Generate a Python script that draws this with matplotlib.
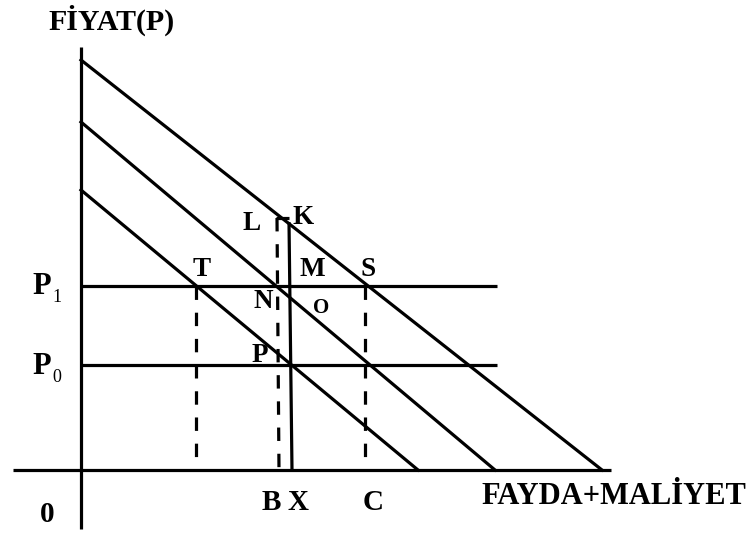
import matplotlib
matplotlib.use("Agg")
import matplotlib.pyplot as plt

# Diagram geometry (in a drawing coordinate space, y grows downward)
axis_v_x = [81, 81]
axis_v_y = [47, 529]
axis_h_x = [13, 611]
axis_h_y = [470, 470]

# Three parallel downward sloping lines: (start, end)
slope_x = [[81, 602], [81, 495], [81, 418]]
slope_y = [[60, 470], [122, 470], [190, 470]]

# Price levels P1, P0
price_y = [286, 365]
price_x_end = 497

# Solid vertical line through K -> X
kx_x = [289, 292]
kx_y = [222, 470]

# Dashed verticals: T, B (with small cap), S->C
dash_x = [[196, 196], [277, 279], [365, 365]]
dash_y = [[286, 470], [218, 470], [286, 470]]
cap_x = [276, 289]
cap_y = [218, 218]

# Point labels
pt_labels = ["T", "M", "S", "L", "K", "N", "P"]
pt_x = [202, 312, 368, 252, 303, 263, 260]
pt_y = [269, 269, 269, 224, 218, 302, 355]

serif = ["Liberation Serif", "DejaVu Serif"]

fig = plt.figure(figsize=(7.5, 5.34), dpi=100)
ax = fig.add_axes([0, 0, 1, 1])
ax.set_xlim(0, 750)
ax.set_ylim(534, 0)
ax.axis("off")

lw = 2.3
ax.plot(axis_v_x, axis_v_y, color="black", lw=lw, solid_capstyle="butt")
ax.plot(axis_h_x, axis_h_y, color="black", lw=lw, solid_capstyle="butt")
for xs, ys in zip(slope_x, slope_y):
    ax.plot(xs, ys, color="black", lw=lw)
for py in price_y:
    ax.plot([axis_v_x[0], price_x_end], [py, py], color="black", lw=lw, solid_capstyle="butt")
ax.plot(kx_x, kx_y, color="black", lw=lw, solid_capstyle="butt")
ax.plot(cap_x, cap_y, color="black", lw=lw, solid_capstyle="butt")
for xs, ys in zip(dash_x, dash_y):
    ax.plot(xs, ys, color="black", lw=lw, linestyle=(0, (4.2, 4.0)), dash_capstyle="butt")

tkw = dict(family=serif, fontweight="bold", color="black", ha="center", va="center")
ax.text(112, 20, "FİYAT(P)", fontsize=21.5, **tkw)
ax.text(614, 497, "FAYDA+MALİYET", fontsize=22, **tkw)
ax.text(47, 514, "0", fontsize=21, **tkw)
ax.text(271, 502, "B", fontsize=21, **tkw)
ax.text(298, 502, "X", fontsize=21, **tkw)
ax.text(373, 502, "C", fontsize=21, **tkw)

# P1 and P0 labels
ax.text(42, 286, "P", fontsize=22, **tkw)
ax.text(57, 297, "1", fontsize=13, family=serif, color="black", ha="center", va="center")
ax.text(42, 366, "P", fontsize=22, **tkw)
ax.text(57, 378, "0", fontsize=13, family=serif, color="black", ha="center", va="center")

for lab, x, y in zip(pt_labels, pt_x, pt_y):
    ax.text(x, y, lab, fontsize=19.5, **tkw)
ax.text(321, 308, "O", fontsize=15, **tkw)

fig.savefig("out.png", dpi=100)
